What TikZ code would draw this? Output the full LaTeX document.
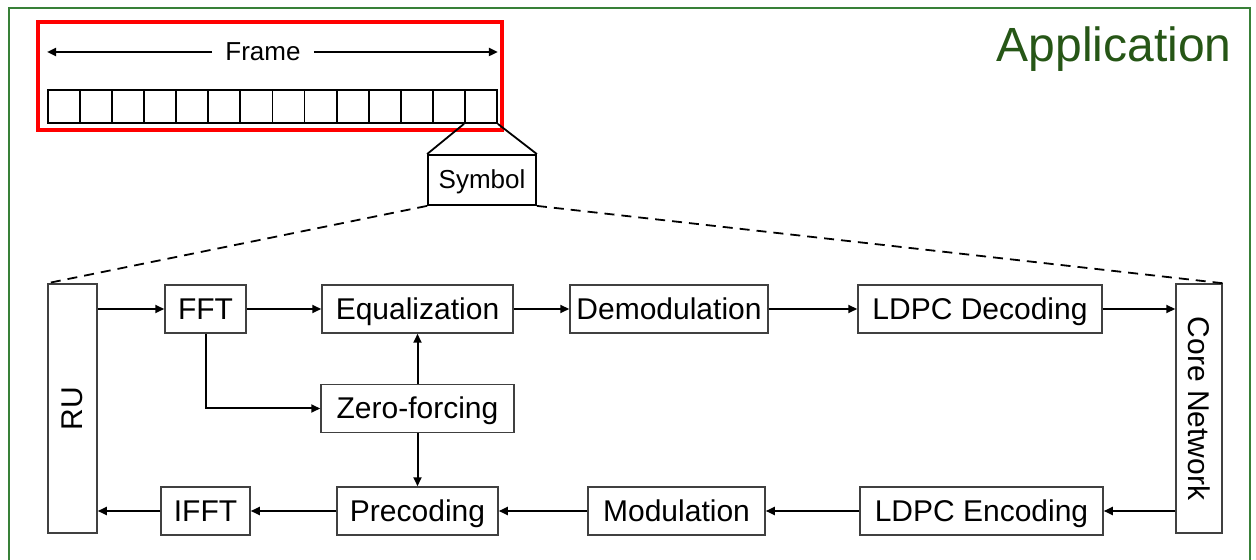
\documentclass[tikz,border=0pt]{standalone}
\usepackage{fontspec}
\usepackage{graphicx}
\setmainfont{Liberation Sans}
\usetikzlibrary{arrows.meta}
\definecolor{borderg}{RGB}{56,128,56}
\definecolor{appg}{RGB}{38,86,22}
\definecolor{boxg}{RGB}{64,64,64}
\begin{document}
\begin{tikzpicture}[x=0.5pt,y=-0.5pt,
  blk/.style={draw=boxg,line width=0.75pt,inner sep=0pt,minimum height=24pt,font=\fontsize{15}{18}\selectfont},
  hblk/.style={blk,text height=10.8pt,text depth=0.5pt},
  cell/.style={draw,line width=0.9pt,inner sep=0pt,minimum width=16.04pt,minimum height=16.5pt},
  arr/.style={line width=1pt,-{Triangle[length=4.5pt,width=4pt]}}]
\useasboundingbox (0,0) rectangle (1256,560);
\draw[borderg,line width=1.2pt] (9,8) rectangle (1250,600);
\node[appg,anchor=base east,inner sep=0pt,font=\fontsize{24}{28}\selectfont] (app) at (1232,62) {Application};
% frame of symbols
\foreach \i in {0,...,13}\node[cell] (c\i) at ({64+32.07*\i},106.5) {};
\node[inner sep=6.5pt,font=\fontsize{13}{15}\selectfont] (frame) at (263,52) {Frame};
\draw[arr] (frame.west) -- (c0.north west |- frame);
\draw[arr] (frame.east) -- (c13.north east |- frame);
\draw[red,line width=1.6pt] (38,22) rectangle (502,130);
\node[hblk,draw=black,line width=0.9pt,minimum width=54pt,minimum height=25pt,text height=9.5pt,text depth=0.5pt,font=\fontsize{13}{15}\selectfont] (sym) at (482,180) {Symbol};
\draw[line width=0.9pt] (c13.south west) -- (sym.north west);
\draw[line width=0.9pt] (c13.south east) -- (sym.north east);
% processing chain
\node[blk,minimum width=24.5pt,minimum height=124.5pt] (ru) at (72.5,408.5) {\rotatebox{90}{RU}};
\node[blk,minimum width=23pt,minimum height=124.5pt] (core) at (1199,408.5) {\rotatebox{-90}{Core Network}};
\node[hblk,minimum width=40.5pt] (fft) at (205.5,309) {FFT};
\node[hblk,minimum width=95.5pt] (eq) at (417.5,309) {Equalization};
\node[hblk,minimum width=99pt] (demod) at (669,309) {Demodulation};
\node[hblk,minimum width=122pt] (ldpcdec) at (980,309) {LDPC Decoding};
\node[hblk,minimum width=96.5pt] (zf) at (417.5,408.5) {Zero-forcing};
\node[hblk,minimum width=44.5pt] (ifft) at (205.5,511) {IFFT};
\node[hblk,minimum width=80.5pt] (prec) at (417.5,511) {Precoding};
\node[hblk,minimum width=88.5pt] (mod) at (676.5,511) {Modulation};
\node[hblk,minimum width=121.5pt] (ldpcenc) at (981.5,511) {LDPC Encoding};
\draw[line width=0.9pt,dash pattern=on 5pt off 3.5pt] (sym.south west) -- (ru.north west);
\draw[line width=0.9pt,dash pattern=on 5pt off 3.5pt] (sym.south east) -- (core.north east);
\draw[arr] (ru.east |- fft) -- (fft);
\draw[arr] (fft) -- (eq);
\draw[arr] (eq) -- (demod);
\draw[arr] (demod) -- (ldpcdec);
\draw[arr] (ldpcdec) -- (core.west |- ldpcdec);
\draw[arr] (fft.south) |- (zf.west);
\draw[arr] (zf) -- (eq);
\draw[arr] (zf) -- (prec);
\draw[arr] (core.west |- ldpcenc) -- (ldpcenc);
\draw[arr] (ldpcenc) -- (mod);
\draw[arr] (mod) -- (prec);
\draw[arr] (prec) -- (ifft);
\draw[arr] (ifft) -- (ru.east |- ifft);
\end{tikzpicture}
\end{document}
